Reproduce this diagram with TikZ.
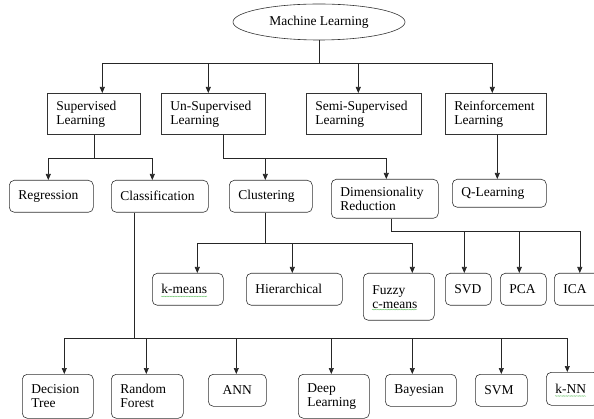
\documentclass[tikz,border=0pt]{standalone}
\usepackage{fontspec}
\setmainfont{Liberation Serif}
\usetikzlibrary{shapes.geometric,arrows.meta,decorations.pathmorphing}

\tikzset{
    box/.style={draw=black!80, line width=0.6pt, anchor=north west, align=left, inner xsep=9pt, inner ysep=3pt},
    rbox/.style={box, rounded corners=5pt},
    link/.style={line width=0.6pt, draw=black!85},
    arr/.style={link, -{Triangle[length=6pt,width=5pt]}},
    squiggle/.style={green!60!black, opacity=0.6, line width=0.3pt, decorate, decoration={snake, amplitude=0.4pt, segment length=1.6pt}}
}

\begin{document}
\begin{tikzpicture}[x=1pt, y=-1pt, font=\fontsize{13.5}{14}\selectfont]
    \useasboundingbox (0,0) rectangle (594,419);
    \clip (0,0) rectangle (594,419);

    % Root
    \node[ellipse, draw=black!80, line width=0.6pt, minimum width=172pt, minimum height=36pt, inner sep=0pt] (ml) at (319,22) {Machine Learning};

    % Learning types
    \node[box, text width=75pt, minimum height=41pt] (sup) at (47,93) {Supervised\\Learning};
    \node[box, text width=86pt, minimum height=41pt] (unsup) at (161,93) {Un-Supervised\\Learning};
    \node[box, text width=97pt, minimum height=41pt] (semi) at (306,93) {Semi-Supervised\\Learning};
    \node[box, text width=83pt, minimum height=41pt] (reinf) at (445,93) {Reinforcement\\Learning};

    % Second level
    \node[rbox, text width=66pt, minimum height=32pt] (regr) at (9,180) {Regression};
    \node[rbox, text width=79pt, minimum height=32pt] (classif) at (111,180) {Classification};
    \node[rbox, text width=65pt, minimum height=32pt] (clust) at (229,180) {Clustering};
    \node[rbox, text width=89pt, minimum height=39pt] (dimred) at (331,179) {Dimensionality\\Reduction};
    \node[rbox, text width=76pt, minimum height=28pt] (qlearn) at (452,179) {Q-Learning};

    % Clustering and reduction methods
    \node[rbox, text width=53pt, minimum height=32pt] (kmeans) at (152,273) {k-means};
    \node[rbox, text width=78pt, minimum height=32pt] (hier) at (246,273) {Hierarchical};
    \node[rbox, text width=53pt, minimum height=47pt] (fuzzy) at (363,273) {Fuzzy\\c-means};
    \node[rbox, text width=28pt, minimum height=32pt] (svd) at (445,273) {SVD};
    \node[rbox, text width=28pt, minimum height=32pt] (pca) at (500,273) {PCA};
    \node[rbox, text width=27pt, minimum height=32pt] (ica) at (554,273) {ICA};

    % Classification methods
    \node[rbox, text width=53pt, minimum height=44pt] (dtree) at (22,374) {Decision\\Tree};
    \node[rbox, text width=54pt, minimum height=44pt] (rforest) at (111,374) {Random\\Forest};
    \node[rbox, text width=40pt, minimum height=32pt, align=center] (ann) at (208,374) {ANN};
    \node[rbox, text width=53pt, minimum height=44pt] (deep) at (298,374) {Deep\\Learning};
    \node[rbox, text width=53pt, minimum height=32pt] (bayes) at (385,374) {Bayesian};
    \node[rbox, text width=34pt, minimum height=32pt] (svm) at (475,374) {SVM};
    \node[rbox, text width=34pt, minimum height=33pt] (knn) at (546,372) {k-NN};

    % spell-check marks
    \draw[squiggle] ([xshift=9pt,yshift=-2.5pt]kmeans.base west) -- ++(46,0);
    \draw[squiggle] ([xshift=9pt,yshift=11pt]fuzzy.south west) -- ++(45,0);
    \draw[squiggle] ([xshift=9pt,yshift=-2.5pt]knn.base west) -- ++(31,0);

    % Root to learning types
    \draw[link] (ml.south) -- ++(0,23) coordinate (b1);
    \draw[arr] (b1) -| ([xshift=8.5pt]sup.north);
    \draw[arr] (b1) -| ([xshift=-5pt]unsup.north);
    \draw[arr] (b1) -| ([xshift=-5.5pt]semi.north);
    \draw[arr] (b1) -| ([xshift=-3.5pt]reinf.north);

    % Supervised
    \draw[link] (sup.south) -- ++(0,24) coordinate (b2);
    \draw[arr] (b2) -| ([xshift=-3pt]regr.north);
    \draw[arr] (b2) -| ([xshift=-7.5pt]classif.north);

    % Un-supervised
    \draw[link] ([xshift=10pt]unsup.south) -- ++(0,24) coordinate (b3);
    \draw[arr] (b3) -| ([xshift=-5.5pt]clust.north);
    \draw[arr] (b3) -| ([xshift=1.5pt]dimred.north);

    % Reinforcement
    \draw[arr] ([xshift=1.5pt]reinf.south) -- ([xshift=-2pt]qlearn.north);

    % Clustering
    \draw[link] ([xshift=-5.5pt]clust.south) -- ++(0,31) coordinate (b4);
    \draw[arr] (b4) -| ([xshift=9.5pt]kmeans.north);
    \draw[arr] (b4) -| ([xshift=-2pt]hier.north);
    \draw[arr] (b4) -| ([xshift=13.5pt]fuzzy.north);

    % Dimensionality reduction
    \draw[link] ([xshift=6.5pt]dimred.south) -- ++(0,13) coordinate (b5);
    \draw[arr] (b5) -| ([xshift=-4pt]svd.north);
    \draw[arr] (b5) -| ([xshift=-4pt]pca.north);
    \draw[arr] (b5) -| ([xshift=3pt]ica.north);

    % Classification
    \draw[link] ([xshift=-25.5pt]classif.south) -- ++(0,126) coordinate (b6);
    \draw[arr] (b6) -| ([xshift=6.5pt]dtree.north);
    \draw[arr] (b6) -| ([xshift=-1pt]rforest.north);
    \draw[arr] (b6) -| ([xshift=-1pt]ann.north);
    \draw[arr] (b6) -| ([xshift=-2.5pt]deep.north);
    \draw[arr] (b6) -| ([xshift=-8.5pt]bayes.north);
    \draw[arr] (b6) -| (svm.north);
    \draw[arr] (b6) -| ([xshift=-5pt]knn.north);
\end{tikzpicture}
\end{document}
